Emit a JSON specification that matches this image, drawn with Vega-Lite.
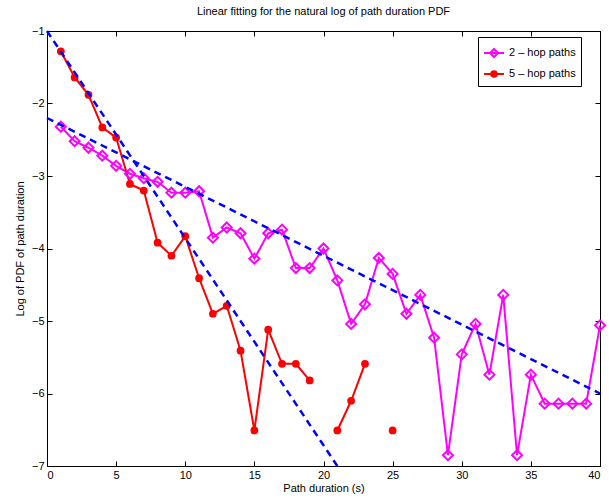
{
  "$schema": "https://vega.github.io/schema/vega-lite/v6.json",
  "width": 553,
  "height": 435,
  "autosize": {"type": "none"},
  "padding": {"left": 47, "top": 31, "right": 9, "bottom": 37},
  "background": "white",
  "title": {"text": "Linear fitting for the natural log of path duration PDF", "fontSize": 11, "fontWeight": "normal", "font": "Liberation Sans", "offset": 8, "anchor": "middle", "color": "black"},
  "config": {
    "view": {"stroke": "black", "strokeWidth": 1},
    "axis": {"grid": false, "domainColor": "black", "tickColor": "black", "labelColor": "black", "titleColor": "black", "labelFont": "Liberation Sans", "titleFont": "Liberation Sans", "labelFontSize": 11, "titleFontSize": 11, "titleFontWeight": "normal", "tickSize": -5, "labelPadding": 8}
  },
  "datasets": {
    "pdf": [
      {"series": "2 – hop paths", "x": 1, "y": -2.32},
      {"series": "2 – hop paths", "x": 2, "y": -2.52},
      {"series": "2 – hop paths", "x": 3, "y": -2.61},
      {"series": "2 – hop paths", "x": 4, "y": -2.72},
      {"series": "2 – hop paths", "x": 5, "y": -2.86},
      {"series": "2 – hop paths", "x": 6, "y": -2.97},
      {"series": "2 – hop paths", "x": 7, "y": -3.03},
      {"series": "2 – hop paths", "x": 8, "y": -3.08},
      {"series": "2 – hop paths", "x": 9, "y": -3.23},
      {"series": "2 – hop paths", "x": 10, "y": -3.23},
      {"series": "2 – hop paths", "x": 11, "y": -3.21},
      {"series": "2 – hop paths", "x": 12, "y": -3.85},
      {"series": "2 – hop paths", "x": 13, "y": -3.71},
      {"series": "2 – hop paths", "x": 14, "y": -3.79},
      {"series": "2 – hop paths", "x": 15, "y": -4.14},
      {"series": "2 – hop paths", "x": 16, "y": -3.79},
      {"series": "2 – hop paths", "x": 17, "y": -3.74},
      {"series": "2 – hop paths", "x": 18, "y": -4.27},
      {"series": "2 – hop paths", "x": 19, "y": -4.27},
      {"series": "2 – hop paths", "x": 20, "y": -4.0},
      {"series": "2 – hop paths", "x": 21, "y": -4.44},
      {"series": "2 – hop paths", "x": 22, "y": -5.04},
      {"series": "2 – hop paths", "x": 23, "y": -4.77},
      {"series": "2 – hop paths", "x": 24, "y": -4.13},
      {"series": "2 – hop paths", "x": 25, "y": -4.35},
      {"series": "2 – hop paths", "x": 26, "y": -4.9},
      {"series": "2 – hop paths", "x": 27, "y": -4.64},
      {"series": "2 – hop paths", "x": 28, "y": -5.23},
      {"series": "2 – hop paths", "x": 29, "y": -6.85},
      {"series": "2 – hop paths", "x": 30, "y": -5.46},
      {"series": "2 – hop paths", "x": 31, "y": -5.04},
      {"series": "2 – hop paths", "x": 32, "y": -5.74},
      {"series": "2 – hop paths", "x": 33, "y": -4.64},
      {"series": "2 – hop paths", "x": 34, "y": -6.85},
      {"series": "2 – hop paths", "x": 35, "y": -5.74},
      {"series": "2 – hop paths", "x": 36, "y": -6.14},
      {"series": "2 – hop paths", "x": 37, "y": -6.14},
      {"series": "2 – hop paths", "x": 38, "y": -6.14},
      {"series": "2 – hop paths", "x": 39, "y": -6.14},
      {"series": "2 – hop paths", "x": 40, "y": -5.06},
      {"series": "5 – hop paths", "x": 1, "y": -1.28},
      {"series": "5 – hop paths", "x": 2, "y": -1.64},
      {"series": "5 – hop paths", "x": 3, "y": -1.88},
      {"series": "5 – hop paths", "x": 4, "y": -2.33},
      {"series": "5 – hop paths", "x": 5, "y": -2.47},
      {"series": "5 – hop paths", "x": 6, "y": -3.11},
      {"series": "5 – hop paths", "x": 7, "y": -3.2},
      {"series": "5 – hop paths", "x": 8, "y": -3.92},
      {"series": "5 – hop paths", "x": 9, "y": -4.1},
      {"series": "5 – hop paths", "x": 10, "y": -3.83},
      {"series": "5 – hop paths", "x": 11, "y": -4.41},
      {"series": "5 – hop paths", "x": 12, "y": -4.9},
      {"series": "5 – hop paths", "x": 13, "y": -4.79},
      {"series": "5 – hop paths", "x": 14, "y": -5.41},
      {"series": "5 – hop paths", "x": 15, "y": -6.51},
      {"series": "5 – hop paths", "x": 16, "y": -5.12},
      {"series": "5 – hop paths", "x": 17, "y": -5.59},
      {"series": "5 – hop paths", "x": 18, "y": -5.59},
      {"series": "5 – hop paths", "x": 19, "y": -5.82},
      {"series": "5 – hop paths", "x": 20, "y": null},
      {"series": "5 – hop paths", "x": 21, "y": -6.51},
      {"series": "5 – hop paths", "x": 22, "y": -6.1},
      {"series": "5 – hop paths", "x": 23, "y": -5.59},
      {"series": "5 – hop paths", "x": 24, "y": null},
      {"series": "5 – hop paths", "x": 25, "y": -6.51}
    ],
    "fits": [
      {"fit": "5-hop fit", "x": 0, "y": -1.0},
      {"fit": "5-hop fit", "x": 21, "y": -7.0},
      {"fit": "2-hop fit", "x": 0, "y": -2.2},
      {"fit": "2-hop fit", "x": 40, "y": -6.0}
    ]
  },
  "resolve": {"axis": {"x": "independent", "y": "independent"}},
  "layer": [
    {
      "data": {"name": "pdf"},
      "mark": {"type": "line", "strokeWidth": 2, "invalid": "break-paths-filter-domains"},
      "encoding": {
        "x": {"field": "x", "type": "quantitative", "scale": {"domain": [0, 40], "nice": false}, "axis": {"title": "Path duration (s)", "values": [0, 5, 10, 15, 20, 25, 30, 35, 40], "titlePadding": 2}},
        "y": {"field": "y", "type": "quantitative", "scale": {"domain": [-7, -1], "nice": false, "zero": false}, "axis": {"title": "Log of PDF of path duration", "values": [-7, -6, -5, -4, -3, -2, -1], "titlePadding": 6}},
        "color": {
          "field": "series", "type": "nominal",
          "scale": {"domain": ["2 – hop paths", "5 – hop paths"], "range": ["#ff00ff", "#ff0000"]},
          "legend": {
            "title": null, "orient": "none", "legendX": 431, "legendY": 6, "strokeColor": "black", "fillColor": "white", "padding": 5,
            "labelFont": "Liberation Sans", "labelFontSize": 11, "labelColor": "black", "symbolSize": 400, "symbolStrokeWidth": 2, "rowPadding": 2,
            "encode": {
              "legend": {"update": {"height": {"value": 48}, "width": {"value": 106}}},
              "symbols": {"update": {
                "shape": {"signal": "datum.value === '2 – hop paths' ? 'M-1,0H1M0,-0.4L0.4,0L0,0.4L-0.4,0Z' : 'M-1,0H1M-0.28,0A0.28,0.28 0 1,1 0.28,0A0.28,0.28 0 1,1 -0.28,0Z'"},
                "fill": {"signal": "datum.value === '2 – hop paths' ? 'white' : '#ff0000'"},
                "strokeWidth": {"value": 2}
              }}
            }
          }
        }
      }
    },
    {
      "data": {"name": "pdf"},
      "transform": [{"filter": "datum.series === '2 – hop paths'"}],
      "mark": {"type": "point", "shape": "diamond", "filled": false, "color": "#ff00ff", "strokeWidth": 2, "size": 100, "opacity": 1},
      "encoding": {
        "x": {"field": "x", "type": "quantitative", "axis": null},
        "y": {"field": "y", "type": "quantitative", "axis": null}
      }
    },
    {
      "data": {"name": "pdf"},
      "transform": [{"filter": "datum.series === '5 – hop paths' && datum.y != null"}],
      "mark": {"type": "point", "shape": "circle", "filled": true, "color": "#ff0000", "size": 60, "opacity": 1},
      "encoding": {
        "x": {"field": "x", "type": "quantitative", "axis": null},
        "y": {"field": "y", "type": "quantitative", "axis": null}
      }
    },
    {
      "data": {"name": "fits"},
      "mark": {"type": "line", "color": "#0000ff", "strokeWidth": 2.5, "strokeDash": [7, 5]},
      "encoding": {
        "x": {"field": "x", "type": "quantitative", "axis": {"orient": "top", "labels": false, "title": null, "values": [0, 5, 10, 15, 20, 25, 30, 35, 40]}},
        "y": {"field": "y", "type": "quantitative", "axis": {"orient": "right", "labels": false, "title": null, "values": [-7, -6, -5, -4, -3, -2, -1]}},
        "detail": {"field": "fit", "type": "nominal"}
      }
    }
  ]
}
